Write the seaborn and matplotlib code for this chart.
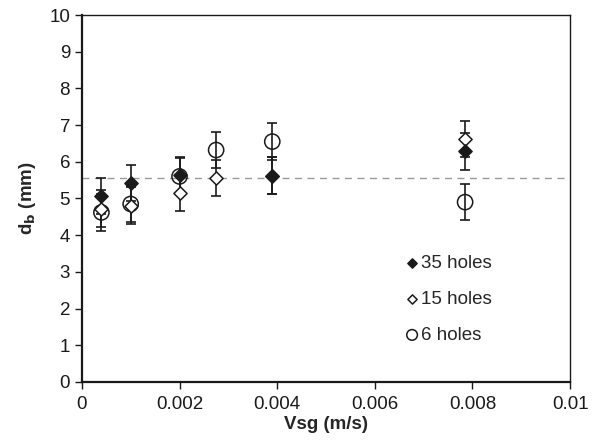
import matplotlib
matplotlib.use("Agg")
import matplotlib.pyplot as plt
import seaborn as sns
import pandas as pd
import numpy as np

# data
vsg_35 = [0.0004, 0.001, 0.002, 0.0039, 0.00785]
db_35 = [5.07, 5.42, 5.64, 5.62, 6.28]
err_35 = [0.5, 0.5, 0.5, 0.5, 0.5]

vsg_15 = [0.0004, 0.001, 0.002, 0.00275, 0.0039, 0.00785]
db_15 = [4.72, 4.80, 5.15, 5.56, 5.62, 6.62]
err_15 = [0.5, 0.5, 0.5, 0.5, 0.5, 0.5]

vsg_6 = [0.0004, 0.001, 0.002, 0.00275, 0.0039, 0.00785]
db_6 = [4.62, 4.85, 5.60, 6.32, 6.55, 4.90]
err_6 = [0.5, 0.5, 0.5, 0.5, 0.5, 0.5]

mean_line = 5.55
labels = ["35 holes", "15 holes", "6 holes"]
xticks = [0, 0.002, 0.004, 0.006, 0.008, 0.01]
xticklabels = ["0", "0.002", "0.004", "0.006", "0.008", "0.01"]

sns.set_theme(style="ticks")
plt.rcParams['font.family'] = ['Liberation Sans', 'DejaVu Sans']

fig = plt.figure(figsize=(6.11, 4.42), dpi=100)
ax = fig.add_axes([0.134, 0.136, 0.799, 0.830])

ax.axhline(mean_line, color="#9a9a9a", ls=(0, (5, 4)), lw=1.0, zorder=1)

ecol = "#1a1a1a"
for xs, ys, es in [(vsg_6, db_6, err_6), (vsg_15, db_15, err_15), (vsg_35, db_35, err_35)]:
    ax.errorbar(xs, ys, yerr=es, fmt="none", ecolor=ecol, elinewidth=1.2,
                capsize=3.5, capthick=1.2, zorder=2)

df6 = pd.DataFrame({"x": vsg_6, "y": db_6})
df15 = pd.DataFrame({"x": vsg_15, "y": db_15})
df35 = pd.DataFrame({"x": vsg_35, "y": db_35})

sns.scatterplot(data=df6, x="x", y="y", marker="o", s=120, facecolor="none",
                edgecolor="#1a1a1a", linewidth=1.1, ax=ax, zorder=3, label=labels[2])
sns.scatterplot(data=df15, x="x", y="y", marker="D", s=45, facecolor="white",
                edgecolor="#1a1a1a", linewidth=1.1, ax=ax, zorder=4, label=labels[1])
sns.scatterplot(data=df35, x="x", y="y", marker="D", s=45, color="#1a1a1a",
                edgecolor="#1a1a1a", linewidth=1.1, ax=ax, zorder=5, label=labels[0])

ax.set_xlim(0, 0.01)
ax.set_ylim(0, 10)
ax.set_xticks(xticks)
ax.set_xticklabels(xticklabels)
ax.set_yticks(range(0, 11))
ax.tick_params(labelsize=13.5, length=5, width=1, color="#1a1a1a", labelcolor="#1a1a1a")
ax.tick_params(axis="x", pad=5)
for sp in ["left", "bottom"]:
    ax.spines[sp].set_linewidth(1.6)
    ax.spines[sp].set_color("#1a1a1a")
for sp in ["top", "right"]:
    ax.spines[sp].set_linewidth(1.0)
    ax.spines[sp].set_color("#1a1a1a")

ax.set_xlabel("Vsg (m/s)", fontsize=13.5, fontweight="bold", labelpad=2)
ax.set_ylabel(r"d$_\mathbf{b}$ (mm)", fontsize=13.5, fontweight="bold", labelpad=8)

h, l = ax.get_legend_handles_labels()
order = [l.index(x) for x in labels]
ax.legend([h[i] for i in order], [l[i] for i in order], loc="upper left",
          bbox_to_anchor=(0.661, 0.346), frameon=False, fontsize=13.5,
          handletextpad=0.1, labelspacing=1.0, handlelength=0.8,
          borderpad=0, borderaxespad=0, markerscale=0.7)

fig.savefig("out.png", dpi=100)
